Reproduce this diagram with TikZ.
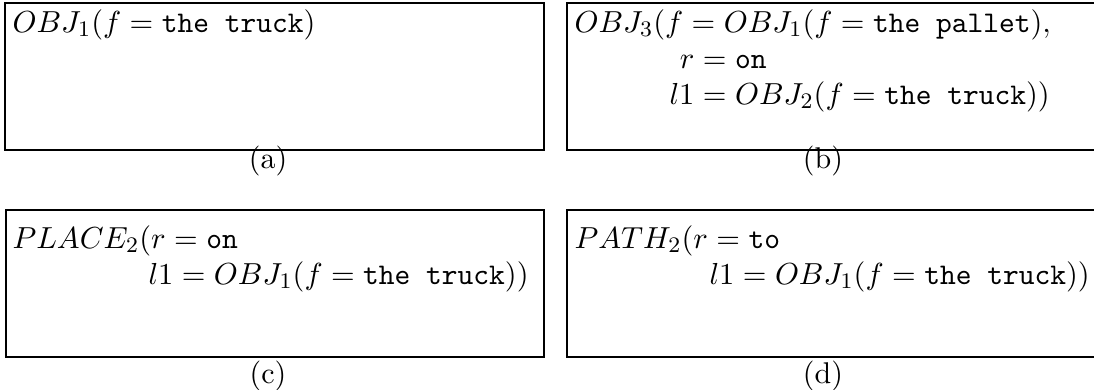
\documentclass[tikz,border=0pt]{standalone}
\begin{document}
\begin{tikzpicture}[x=0.36pt,y=-0.36pt,
  panel/.style={draw=black,line width=0.75pt},
  txt/.style={anchor=base west,inner sep=0pt,font=\fontsize{10.8}{13}\selectfont},
  sublabel/.style={anchor=base,inner sep=0pt,font=\fontsize{10.8}{13}\selectfont}]
\useasboundingbox (0,0) rectangle (1094,389);
\begin{scope}
\clip (0,0) rectangle (1094,389);
\draw[panel] (5,3) rectangle (544,150);
\draw[panel] (567,3) rectangle (1100,150);
\draw[panel] (6,210) rectangle (544,357);
\draw[panel] (567,210) rectangle (1100,357);
\end{scope}
% (a)
\node[txt] (a1) at (12,32) {$OBJ_1(f=\texttt{the truck})$};
\node[sublabel] (la) at (268,168) {(a)};
% (b)
\node[txt] (b1) at (574,32) {$OBJ_3(f=OBJ_1(f=\texttt{the pallet}),$};
\node[txt] (b2) at (669,68) {$\hphantom{l1}\llap{$r$}=\texttt{on}$};
\node[txt] (b3) at (669,104) {$l1=OBJ_2(f=\texttt{the truck}))$};
\node[sublabel] (lb) at (823,168) {(b)};
% (c)
\node[txt] (c1) at (12,248) {$PLACE_2(r=\texttt{on}$};
\node[txt] (c2) at (148,284) {$l1=OBJ_1(f=\texttt{the truck}))$};
\node[sublabel] (lc) at (268,383) {(c)};
% (d)
\node[txt] (d1) at (574,248) {$PATH_2(r=\texttt{to}$};
\node[txt] (d2) at (709,284) {$l1=OBJ_1(f=\texttt{the truck}))$};
\node[sublabel] (ld) at (823,383) {(d)};
\end{tikzpicture}
\end{document}
